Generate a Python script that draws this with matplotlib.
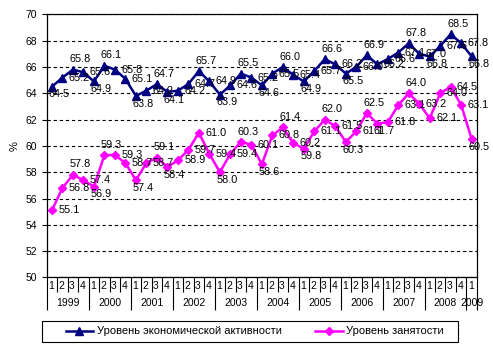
import matplotlib
matplotlib.use("Agg")
import matplotlib.pyplot as plt
from matplotlib.patches import Rectangle

plt.rcParams['font.family'] = ['Liberation Sans', 'DejaVu Sans']

years = ['1999', '2000', '2001', '2002', '2003', '2004', '2005', '2006', '2007', '2008', '2009']
quarters = [1, 2, 3, 4] * 10 + [1]

activity = [64.5, 65.2, 65.8, 65.6, 64.9, 66.1, 65.8, 65.1, 63.8, 64.2, 64.7, 64.1,
            64.2, 64.7, 65.7, 64.9, 63.9, 64.6, 65.5, 65.2, 64.6, 65.5, 66.0, 65.4,
            64.9, 65.7, 66.6, 66.2, 65.5, 66.0, 66.9, 66.2, 66.6, 67.1, 67.8, 67.0,
            66.8, 67.6, 68.5, 67.8, 66.8]
employment = [55.1, 56.8, 57.8, 57.4, 56.9, 59.3, 59.3, 58.7, 57.4, 58.7, 59.1, 58.4,
              58.9, 59.7, 61.0, 59.4, 58.0, 59.4, 60.3, 60.1, 58.6, 60.8, 61.4, 60.2,
              59.8, 61.1, 62.0, 61.5, 60.3, 61.1, 62.5, 61.7, 61.8, 63.1, 64.0, 63.2,
              62.1, 64.0, 64.5, 63.1, 60.5]

# where each data label sits: a = above, b = below, r = right
act_pos = "brarb" "arrbr" "abrra" "rbrar" "brarb" "rarbr" "arrra" "rbrar" "b"
emp_pos = "rrarb" "arrbr" "abrrr" "rbrar" "brarb" "rarbr" "abrra" "rrrrr" "b"

fig = plt.figure(figsize=(4.93, 3.55), dpi=100)
ax = fig.add_axes([0.0947, 0.2186, 0.8728, 0.7408])

x = list(range(len(activity)))
ax.plot(x, activity, color='#000080', lw=1.8, marker='^', ms=5.5,
        label='Уровень экономической активности')
ax.plot(x, employment, color='#FF00FF', lw=1.8, marker='D', ms=4,
        label='Уровень занятости')

offs = {'a': ((5, 7.5), 'center'), 'b': ((5, -5.5), 'center'), 'r': ((4.5, 0), 'left')}
for vals, pos in ((activity, act_pos), (employment, emp_pos)):
    for i, v in enumerate(vals):
        off, ha = offs[pos[i]]
        ax.annotate(f"{v:.1f}", (i, v), xytext=off, textcoords='offset points',
                    ha=ha, va='center', fontsize=7.8, color='black', annotation_clip=False)

ax.set_xlim(-0.5, len(activity) - 0.5)
ax.set_ylim(50, 70)
ax.set_yticks(range(50, 71, 2))
ax.tick_params(axis='y', direction='out', length=3.6, width=0.8, pad=3.5, labelsize=7.5)
ax.grid(axis='y', color='black', linestyle=(0, (3, 2.5)), lw=0.8)
ax.set_axisbelow(True)
ax.set_ylabel('%', fontsize=8)
ax.yaxis.set_label_coords(-0.064, 0.5)
for s in ax.spines.values():
    s.set_color('black')
    s.set_linewidth(0.9)

# category axis: quarter separators (minor) and year separators (major)
ax.set_xticks([k - 0.5 for k in range(0, len(activity) + 1, 4)] + [len(activity) - 0.5])
ax.set_xticks([k - 0.5 for k in range(len(activity) + 1)], minor=True)
ax.tick_params(axis='x', which='major', direction='out', length=24, width=0.8, labelbottom=False)
ax.tick_params(axis='x', which='minor', direction='out', length=10.5, width=0.8, labelbottom=False)

tr = ax.get_xaxis_transform()
for i, q in enumerate(quarters):
    ax.text(i - 0.1, -0.034, str(q), transform=tr, ha='center', va='center', fontsize=7.5)
for j, y in enumerate(years):
    n = min(4, len(activity) - 4 * j)
    ax.text(4 * j + (n - 1) / 2, -0.098, y, transform=tr, ha='center', va='center', fontsize=7.5)

# legend box
fig.patches.append(Rectangle((0.0858, 0.0366), 0.8432, 0.0592, transform=fig.transFigure,
                             fill=False, edgecolor='black', lw=0.8))
fig.legend(loc='center left', bbox_to_anchor=(60 / 493, 1 - 331.5 / 355), ncol=2,
           frameon=False, fontsize=8, borderpad=0, handlelength=2.5, handletextpad=0.3,
           columnspacing=3.0, numpoints=1)

fig.savefig('out.png', dpi=100)
